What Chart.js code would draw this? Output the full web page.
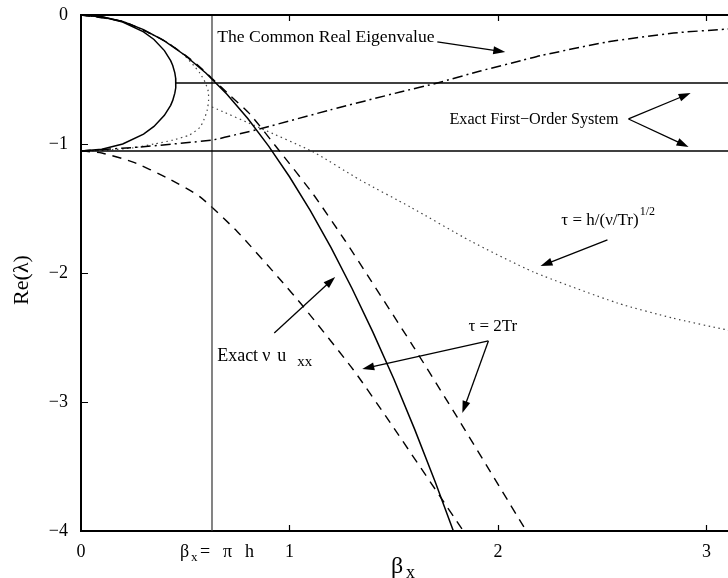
<!DOCTYPE html>
<html>
<head>
<meta charset="utf-8">
<script src="https://cdn.jsdelivr.net/npm/chart.js@4.4.1/dist/chart.umd.min.js"></script>
<style>
html, body { margin: 0; padding: 0; background: #fff; overflow: hidden; }
#wrap { position: absolute; left: 0; top: 0; width: 736px; height: 578px; }
</style>
</head>
<body>
<div id="wrap"><canvas id="eigChart"></canvas></div>
<script>
// axis ticks
const xTicks = [0, 1, 2, 3];
const xTickLabels = ['0', '1', '2', '3'];
const yTicks = [-4, -3, -2, -1, 0];
const yTickLabels = ['\u22124', '\u22123', '\u22122', '\u22121', '0'];
const betaPiH = 0.6283; // beta_x = pi h

// Exact nu u_xx (solid)
const exactBeta = [0, 0.1, 0.2, 0.3, 0.4, 0.5, 0.6, 0.7, 0.8, 0.9, 1.0, 1.1, 1.2, 1.3, 1.4, 1.5, 1.6, 1.7, 1.786, 1.85];
const exactRe = [0, -0.013, -0.05, -0.113, -0.201, -0.314, -0.451, -0.614, -0.803, -1.016, -1.254, -1.517, -1.806, -2.12, -2.458, -2.82, -3.21, -3.624, -4.0, -4.29];

// Exact first-order system: real branches (solid bubble) and the two levels
const firstBeta = [0, 0.1, 0.2, 0.3, 0.35, 0.4, 0.43, 0.44, 0.45, 0.454, 0.455, 0.454, 0.45, 0.44, 0.43, 0.4, 0.35, 0.3, 0.2, 0.1, 0];
const firstRe = [0, -0.013, -0.054, -0.131, -0.19, -0.276, -0.354, -0.392, -0.448, -0.49, -0.527, -0.564, -0.606, -0.662, -0.7, -0.778, -0.864, -0.923, -1.0, -1.041, -1.054];
const firstComplexBeta = [0.455, 3.1416];
const firstComplexRe = [-0.527, -0.527];
const firstRealBeta = [0, 3.1416];
const firstRealRe = [-1.054, -1.054];

// The common real eigenvalue (dash-dot)
const commonBeta = [0, 0.283, 0.629, 0.75, 0.874, 1.195, 1.531, 1.709, 1.915, 2.122, 2.204, 2.525, 2.842, 3.101, 3.1416];
const commonRe = [-1.054, -1.023, -0.969, -0.925, -0.876, -0.736, -0.597, -0.527, -0.434, -0.349, -0.315, -0.209, -0.14, -0.109, -0.105];

// tau = 2Tr (dashed), two branches
const tauA_Beta = [0, 0.2, 0.4, 0.55, 0.706, 0.811, 0.955, 1.114, 1.267, 1.387, 1.594, 1.805, 2.136, 2.2];
const tauA_Re = [0, -0.05, -0.2, -0.375, -0.61, -0.77, -1.06, -1.39, -1.75, -2.05, -2.57, -3.12, -4.0, -4.17];
const tauB_Beta = [0, 0.1, 0.25, 0.41, 0.571, 0.75, 0.955, 1.066, 1.306, 1.483, 1.834, 1.9];
const tauB_Re = [-1.054, -1.07, -1.14, -1.26, -1.41, -1.68, -2.05, -2.26, -2.75, -3.16, -4.0, -4.16];

// tau = h/(nu/Tr)^(1/2) (dotted): real bubble and complex branch
const tauC_Beta = [0, 0.2, 0.4, 0.47, 0.5, 0.54, 0.57, 0.595, 0.61, 0.612, 0.605, 0.59, 0.571, 0.52, 0.44, 0.35, 0.25, 0.1, 0];
const tauC_Re = [0, -0.05, -0.2, -0.275, -0.32, -0.39, -0.45, -0.52, -0.59, -0.66, -0.74, -0.81, -0.87, -0.93, -0.97, -1.0, -1.03, -1.05, -1.054];
const tauD_Beta = [0.629, 0.859, 1.114, 1.339, 1.579, 1.868, 2.17, 2.573, 2.837, 3.101, 3.1416];
const tauD_Re = [-0.713, -0.876, -1.062, -1.279, -1.488, -1.752, -1.992, -2.233, -2.349, -2.442, -2.45];

const FONT = '"Liberation Serif", "Times New Roman", Times, serif';

function pts(xs, ys) {
    return xs.map((v, i) => ({ x: v, y: ys[i] }));
}

function series(xs, ys, style) {
    return Object.assign({
        data: pts(xs, ys),
        showLine: true,
        pointRadius: 0,
        borderColor: '#000',
        borderWidth: 1.4,
        tension: 0,
        fill: false
    }, style);
}

// text + arrows, positioned in data units; dx = offset in px from the note start
const notes = [
    { x: 0.653, y: -0.209, size: 17.6, parts: [{ t: 'The Common Real Eigenvalue' }] },
    { x: 1.767, y: -0.845, size: 16.2, parts: [{ t: 'Exact First\u2212Order System' }] },
    { x: 2.304, y: -1.628, size: 17, parts: [{ t: '\u03c4 = h/(\u03bd/Tr)' }, { t: '1/2', size: 12, dy: -10 }] },
    { x: 1.858, y: -2.45, size: 17, parts: [{ t: '\u03c4 = 2Tr' }] },
    { x: 0.653, y: -2.682, size: 18, parts: [{ t: 'Exact', dx: 0 }, { t: '\u03bd', dx: 45 }, { t: 'u', dx: 60 }, { t: 'xx', size: 15, dy: 5, dx: 80 }] }
];
const arrows = [
    [[1.709, -0.209], [2.035, -0.287]],
    [[2.626, -0.806], [2.924, -0.605]],
    [[2.626, -0.806], [2.914, -1.023]],
    [[2.525, -1.744], [2.204, -1.946]],
    [[1.954, -2.527], [1.349, -2.744]],
    [[1.954, -2.527], [1.829, -3.085]],
    [[0.927, -2.465], [1.219, -2.031]]
];

function drawParts(ctx, parts, x, y, base) {
    let cx = x;
    parts.forEach(p => {
        ctx.font = (p.size || base) + 'px ' + FONT;
        const px = p.dx !== undefined ? x + p.dx : cx;
        ctx.fillText(p.t, px, y + (p.dy || 0));
        cx = px + ctx.measureText(p.t).width + 1;
    });
}

function drawArrow(ctx, x1, y1, x2, y2) {
    const ang = Math.atan2(y2 - y1, x2 - x1);
    const len = 12, half = 4;
    ctx.beginPath();
    ctx.moveTo(x1, y1);
    ctx.lineTo(x2 - Math.cos(ang) * len * 0.8, y2 - Math.sin(ang) * len * 0.8);
    ctx.stroke();
    ctx.beginPath();
    ctx.moveTo(x2, y2);
    ctx.lineTo(x2 - Math.cos(ang) * len - Math.sin(ang) * half, y2 - Math.sin(ang) * len + Math.cos(ang) * half);
    ctx.lineTo(x2 - Math.cos(ang) * len + Math.sin(ang) * half, y2 - Math.sin(ang) * len - Math.cos(ang) * half);
    ctx.closePath();
    ctx.fill();
}

const overlay = {
    id: 'overlay',
    afterDraw(chart) {
        const { ctx, chartArea: a } = chart;
        const sx = chart.scales.x, sy = chart.scales.y;
        ctx.save();
        ctx.strokeStyle = '#000';
        ctx.fillStyle = '#000';

        // top and right frame
        ctx.lineWidth = 2;
        ctx.beginPath();
        ctx.moveTo(a.left, a.top);
        ctx.lineTo(a.right, a.top);
        ctx.lineTo(a.right, a.bottom);
        ctx.stroke();

        // inward tick marks
        ctx.lineWidth = 1.2;
        ctx.beginPath();
        xTicks.slice(1).forEach(v => {
            const px = Math.round(sx.getPixelForValue(v)) + 0.5;
            ctx.moveTo(px, a.bottom); ctx.lineTo(px, a.bottom - 6);
            ctx.moveTo(px, a.top); ctx.lineTo(px, a.top + 6);
        });
        yTicks.slice(1, -1).forEach(v => {
            const py = Math.round(sy.getPixelForValue(v)) + 0.5;
            ctx.moveTo(a.left, py); ctx.lineTo(a.left + 7, py);
        });
        ctx.stroke();

        // annotations
        ctx.textBaseline = 'alphabetic';
        ctx.textAlign = 'left';
        notes.forEach(n => {
            drawParts(ctx, n.parts, sx.getPixelForValue(n.x), sy.getPixelForValue(n.y), n.size);
        });
        ctx.lineWidth = 1.3;
        arrows.forEach(([p, q]) => {
            drawArrow(ctx, sx.getPixelForValue(p[0]), sy.getPixelForValue(p[1]),
                sx.getPixelForValue(q[0]), sy.getPixelForValue(q[1]));
        });

        // beta_x = pi h under the vertical line
        const base = a.bottom + 26;
        const vx = sx.getPixelForValue(betaPiH);
        ctx.font = '18px ' + FONT;
        ctx.fillText('\u03b2', vx - 32, base);
        ctx.font = '13px ' + FONT;
        ctx.fillText('x', vx - 21, base + 4);
        ctx.font = '18px ' + FONT;
        ctx.fillText('=', vx - 12, base);
        ctx.fillText('\u03c0', vx + 11, base);
        ctx.fillText('h', vx + 33, base);

        // axis titles
        ctx.font = '24px ' + FONT;
        ctx.fillText('\u03b2', 391, 573);
        ctx.font = '18px ' + FONT;
        ctx.fillText('x', 406, 578);

        ctx.translate(22, 280);
        ctx.rotate(-Math.PI / 2);
        ctx.textAlign = 'center';
        ctx.textBaseline = 'middle';
        ctx.font = '22px ' + FONT;
        ctx.fillText('Re(\u03bb)', 0, 0);
        ctx.restore();
    }
};

function initializeEigenvalueChart() {
    const ctx = document.getElementById('eigChart').getContext('2d');
    new Chart(ctx, {
        type: 'scatter',
        data: {
            datasets: [
                series(exactBeta, exactRe, { borderWidth: 1.5 }),
                series(firstBeta, firstRe, { borderWidth: 1.5 }),
                series(firstComplexBeta, firstComplexRe, { borderWidth: 1.5 }),
                series(firstRealBeta, firstRealRe, { borderWidth: 1.5 }),
                series([betaPiH, betaPiH], [0, -4], { borderWidth: 1.2, borderColor: '#333' }),
                series(commonBeta, commonRe, { borderDash: [10, 4, 2, 4], borderWidth: 1.5, tension: 0.2 }),
                series(tauA_Beta, tauA_Re, { borderDash: [9, 7], borderWidth: 1.4, tension: 0.2 }),
                series(tauB_Beta, tauB_Re, { borderDash: [9, 7], borderWidth: 1.4, tension: 0.2 }),
                series(tauC_Beta, tauC_Re, { borderDash: [1.5, 3.5], borderWidth: 1.2, borderColor: '#444', tension: 0.2 }),
                series(tauD_Beta, tauD_Re, { borderDash: [1.5, 3.5], borderWidth: 1.2, borderColor: '#444', tension: 0.2 })
            ]
        },
        options: {
            responsive: true,
            maintainAspectRatio: false,
            animation: false,
            layout: { padding: { top: 15, right: 0, bottom: 0, left: 0 } },
            plugins: { legend: { display: false }, tooltip: { enabled: false } },
            scales: {
                x: {
                    type: 'linear',
                    min: 0,
                    max: Math.PI,
                    grid: { display: false, drawTicks: false },
                    border: { display: true, color: '#000', width: 2 },
                    afterBuildTicks: s => { s.ticks = xTicks.map(v => ({ value: v })); },
                    afterFit: s => { s.height = 47; s.paddingLeft = 0; s.paddingRight = 0; },
                    ticks: {
                        padding: 10,
                        color: '#000',
                        font: { family: FONT, size: 18 },
                        maxRotation: 0,
                        callback: v => xTickLabels[xTicks.indexOf(v)]
                    }
                },
                y: {
                    type: 'linear',
                    min: -4,
                    max: 0,
                    grid: { display: false, drawTicks: false },
                    border: { display: true, color: '#000', width: 2 },
                    afterBuildTicks: s => { s.ticks = yTicks.map(v => ({ value: v })); },
                    afterFit: s => { s.width = 81; s.paddingTop = 0; s.paddingBottom = 0; },
                    ticks: {
                        padding: 13,
                        color: '#000',
                        font: { family: FONT, size: 18 },
                        callback: v => yTickLabels[yTicks.indexOf(v)]
                    }
                }
            }
        },
        plugins: [overlay]
    });
}

document.addEventListener('DOMContentLoaded', initializeEigenvalueChart);
</script>
</body>
</html>
